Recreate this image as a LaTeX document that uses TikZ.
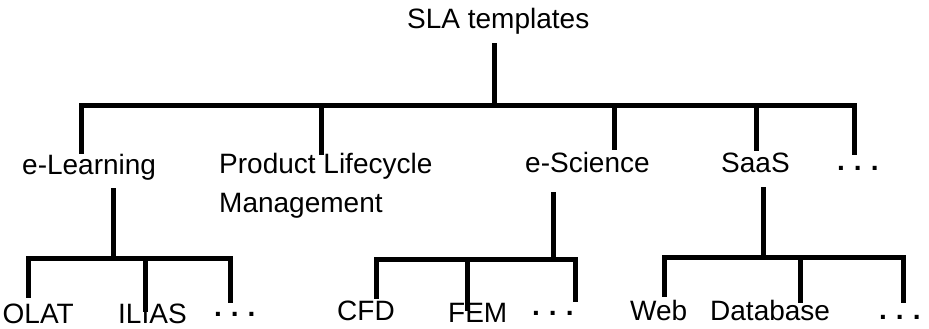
\documentclass[tikz,border=0pt]{standalone}
\usepackage{fontspec}
\setmainfont{Liberation Sans}
\newcommand{\gapdots}{\textbf{.\hspace{9pt}.\hspace{9pt}.}}
\begin{document}
\begin{tikzpicture}[x=1pt, y=-1pt,
          lbl/.style={font=\fontsize{28}{39}\selectfont, inner sep=0pt, anchor=base west,
                      text height=20pt, text depth=6pt},
          branch/.style={line width=5pt}]
            \useasboundingbox (0,0) rectangle (929,329);
            % Level 0
            \node[lbl] (sla) at (407,29) {SLA templates};
            % Level 1
            \node[lbl] (elearn) at (22,174) {e-Learning};
            \node[font=\fontsize{28}{39}\selectfont, inner sep=0pt, anchor=north west, align=left]
                (plm) at (219,153) {Product Lifecycle\\Management};
            \node[lbl] (escience) at (525,172) {e-Science};
            \node[lbl] (saas) at (721,172) {SaaS};
            \node[lbl] (more) at (837,170) {\gapdots};
            % Level 2
            \node[lbl] (olat) at (2.5,323) {OLAT};
            \node[lbl] (ilias) at (118,323) {ILIAS};
            \node[lbl] (moreel) at (214,316) {\gapdots};
            \node[lbl] (cfd) at (337,320) {CFD};
            \node[lbl] (fem) at (448,322) {FEM};
            \node[lbl] (moresc) at (532,315) {\gapdots};
            \node[lbl] (web) at (630,320) {Web};
            \node[lbl] (db) at (710,320) {Database};
            \node[lbl] (moresa) at (879,319) {\gapdots};
            % bars
            \coordinate (top) at (494,105);
            \coordinate (t1) at (81,105);
            \coordinate (t2) at (321,105);
            \coordinate (t3) at (614,105);
            \coordinate (t4) at (756,105);
            \coordinate (t5) at (854,105);
            \coordinate (l0) at (113,258);
            \coordinate (l1) at (28,258);
            \coordinate (l2) at (145,258);
            \coordinate (l3) at (230,258);
            \coordinate (s0) at (553,259);
            \coordinate (s1) at (376,259);
            \coordinate (s2) at (467,259);
            \coordinate (s3) at (575,259);
            \coordinate (w0) at (763,257);
            \coordinate (w1) at (664,257);
            \coordinate (w2) at (800,257);
            \coordinate (w3) at (903,257);
            % SLA templates
            \draw[branch] ([yshift=-8pt]sla.south -| top) -- (top);
            \draw[branch] (t1 |- elearn.north) -- (t1) -- (t5) -- ([yshift=-5pt]t5 |- more.north);
            \draw[branch] (t2) -- ([yshift=-2pt]t2 |- plm.north);
            \draw[branch] (t3) -- ([yshift=2pt]t3 |- escience.north);
            \draw[branch] (t4) -- ([yshift=1pt]t4 |- saas.north);
            % e-Learning
            \draw[branch] ([yshift=-8pt]elearn.south -| l0) -- (l0);
            \draw[branch] ([yshift=5pt]l1 |- olat.north) -- (l1) -- (l3) -- ([yshift=-7pt]l3 |- moreel.north);
            \draw[branch] (l2) -- ([yshift=-9pt]l2 |- ilias.north);
            % e-Science
            \draw[branch] ([yshift=-14pt]escience.south -| s0) -- (s0);
            \draw[branch] ([yshift=1pt]s1 |- cfd.north) -- (s1) -- (s3) -- ([yshift=-7pt]s3 |- moresc.north);
            \draw[branch] (s2) -- ([yshift=-9pt]s2 |- fem.north);
            % SaaS
            \draw[branch] ([yshift=-9pt]saas.south -| w0) -- (w0);
            \draw[branch] ([yshift=3pt]w1 |- web.north) -- (w1) -- (w3) -- ([yshift=-4pt]w3 |- moresa.north);
            \draw[branch] (w2) -- ([yshift=-3pt]w2 |- db.north);
        \end{tikzpicture}
\end{document}
